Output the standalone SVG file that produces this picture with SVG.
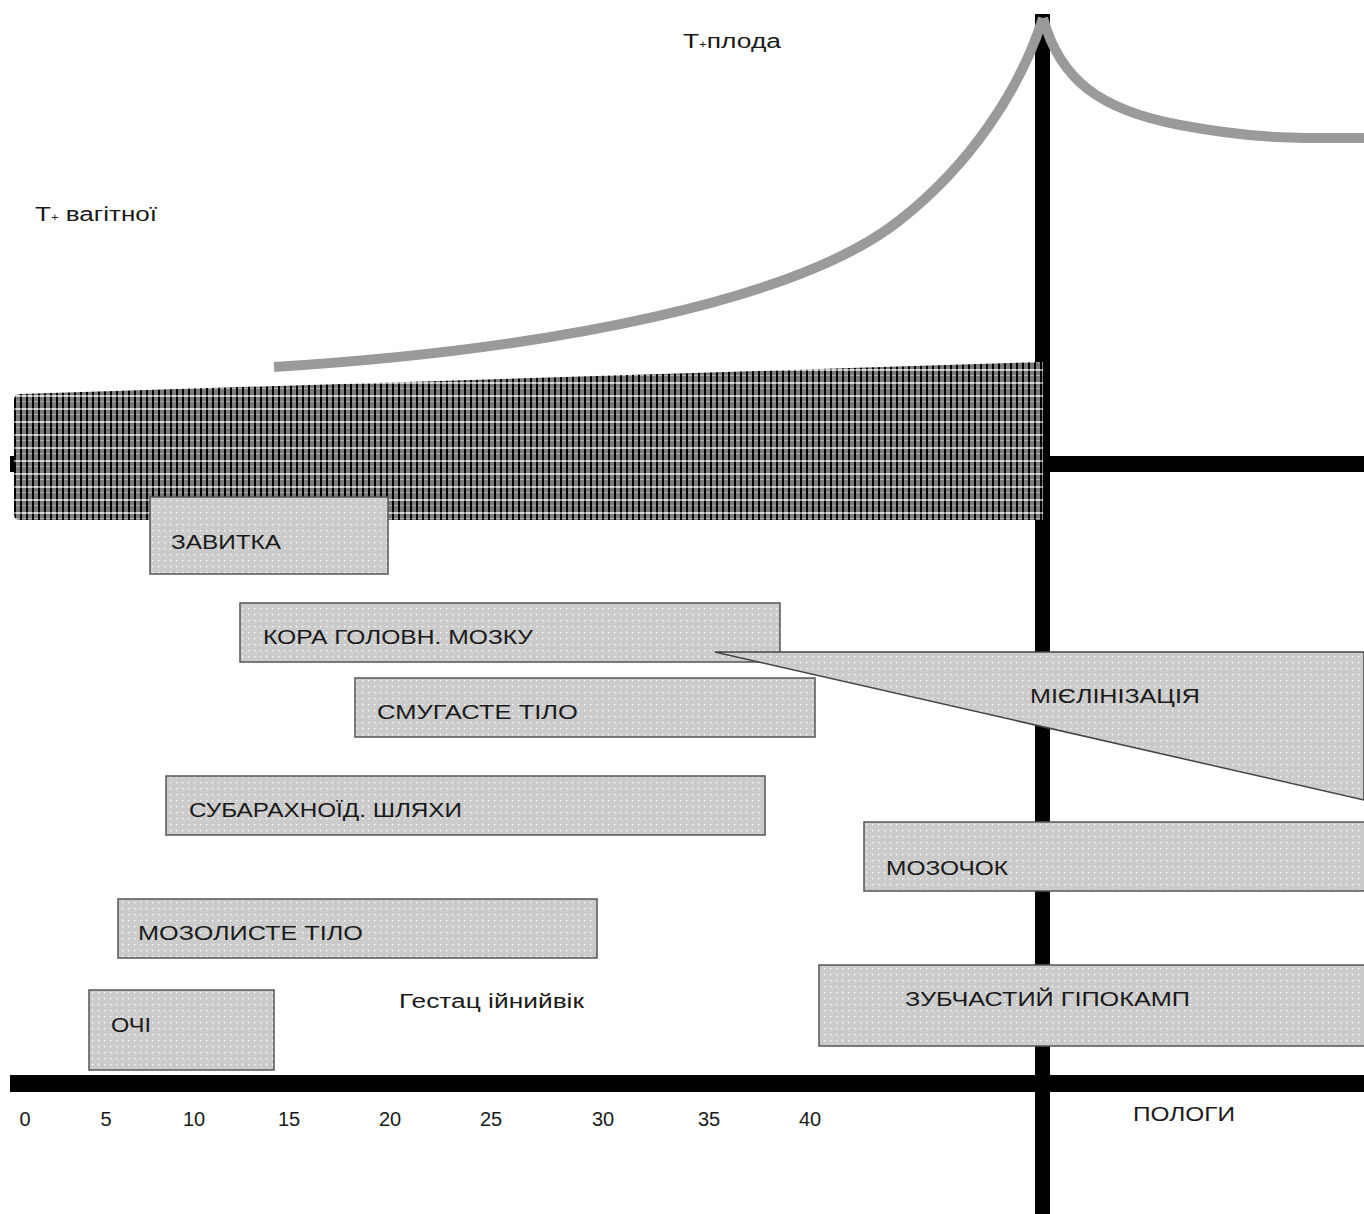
<svg xmlns="http://www.w3.org/2000/svg" width="1364" height="1214" viewBox="0 0 1364 1214">
<style>
text{font-family:"Liberation Sans",Arial,sans-serif;font-size:20px;fill:#1a1a1a}
.box{fill:url(#dots);stroke:#555;stroke-width:1.5}
.bar{fill:#000}
</style>
<defs>
<pattern id="dots" width="6" height="6" patternUnits="userSpaceOnUse">
<rect width="6" height="6" fill="#cbcbcb"/>
<rect x="2" y="2" width="1.3" height="1.3" fill="#fff"/>
</pattern>
<pattern id="plaid" width="6" height="13" patternUnits="userSpaceOnUse">
<rect width="6" height="13" fill="#7a7a7a"/>
<rect x="0" y="5" width="6" height="2" fill="#d8d8d8"/>
<rect x="0" y="11" width="6" height="1" fill="#b0b0b0"/>
<rect x="2" y="0" width="2" height="13" fill="#000"/>
<rect x="2" y="5" width="2" height="2" fill="#888"/>
</pattern>
</defs>
<g id="axes">
<rect class="bar" x="1035" y="14" width="15" height="1200"/>
<rect class="bar" x="10" y="456" width="1354" height="16"/>
<rect class="bar" x="10" y="1075" width="1354" height="17"/>
</g>
<g id="band">
<path d="M14,400 Q14,394 20,394 L1043,362 L1043,520 L20,520 Q14,520 14,514 Z" fill="url(#plaid)"/>
</g>
<g id="curve" fill="none" stroke="#9a9a9a" stroke-width="10" stroke-linecap="butt">
<path d="M274,367 C550,350 800,300 900,220 C970,165 1020,90 1043,18"/>
<path d="M1043,18 C1060,80 1100,110 1180,125 S1300,138 1364,138"/>
</g>
<g id="labels">
<text x="683" y="48" textLength="98" lengthAdjust="spacingAndGlyphs">Т<tspan font-size="10">+</tspan>плода</text>
<text x="35" y="221" textLength="122" lengthAdjust="spacingAndGlyphs">Т<tspan font-size="10">+</tspan> вагітної</text>
<text x="399" y="1008" textLength="185" lengthAdjust="spacingAndGlyphs">Гестац ійнийвік</text>
<text x="1133" y="1121" textLength="102" lengthAdjust="spacingAndGlyphs">ПОЛОГИ</text>
</g>
<g id="ticks" text-anchor="middle">
<text x="25" y="1126">0</text>
<text x="106" y="1126">5</text>
<text x="194" y="1126">10</text>
<text x="289" y="1126">15</text>
<text x="390" y="1126">20</text>
<text x="491" y="1126">25</text>
<text x="603" y="1126">30</text>
<text x="709" y="1126">35</text>
<text x="810" y="1126">40</text>
</g>
<g id="n-zavytka"><rect class="box" x="150" y="497" width="238" height="77"/><text x="171" y="549" textLength="110" lengthAdjust="spacingAndGlyphs">ЗАВИТКА</text></g>
<g id="n-kora"><rect class="box" x="240" y="603" width="540" height="59"/><text x="263" y="644" textLength="270" lengthAdjust="spacingAndGlyphs">КОРА ГОЛОВН. МОЗКУ</text></g>
<g id="n-smuhaste"><rect class="box" x="355" y="678" width="460" height="59"/><text x="377" y="719" textLength="201" lengthAdjust="spacingAndGlyphs">СМУГАСТЕ  ТІЛО</text></g>
<g id="n-mielin"><path d="M715,652 L1364,652 L1364,800 Z" fill="url(#dots)" stroke="#444" stroke-width="1.5"/><text x="1030" y="703" textLength="170" lengthAdjust="spacingAndGlyphs">МІЄЛІНІЗАЦІЯ</text></g>
<g id="n-subarakh"><rect class="box" x="166" y="776" width="599" height="59"/><text x="189" y="817" textLength="273" lengthAdjust="spacingAndGlyphs">СУБАРАХНОЇД. ШЛЯХИ</text></g>
<g id="n-mozochok"><rect class="box" x="864" y="822" width="510" height="69"/><text x="886" y="875" textLength="122" lengthAdjust="spacingAndGlyphs">МОЗОЧОК</text></g>
<g id="n-mozoliste"><rect class="box" x="118" y="899" width="479" height="59"/><text x="138" y="940" textLength="225" lengthAdjust="spacingAndGlyphs">МОЗОЛИСТЕ  ТІЛО</text></g>
<g id="n-zubchastyi"><rect class="box" x="819" y="965" width="555" height="81"/><text x="905" y="1006" textLength="285" lengthAdjust="spacingAndGlyphs">ЗУБЧАСТИЙ ГІПОКАМП</text></g>
<g id="n-ochi"><rect class="box" x="89" y="990" width="185" height="80"/><text x="111" y="1032" textLength="40" lengthAdjust="spacingAndGlyphs">ОЧІ</text></g>
</svg>
